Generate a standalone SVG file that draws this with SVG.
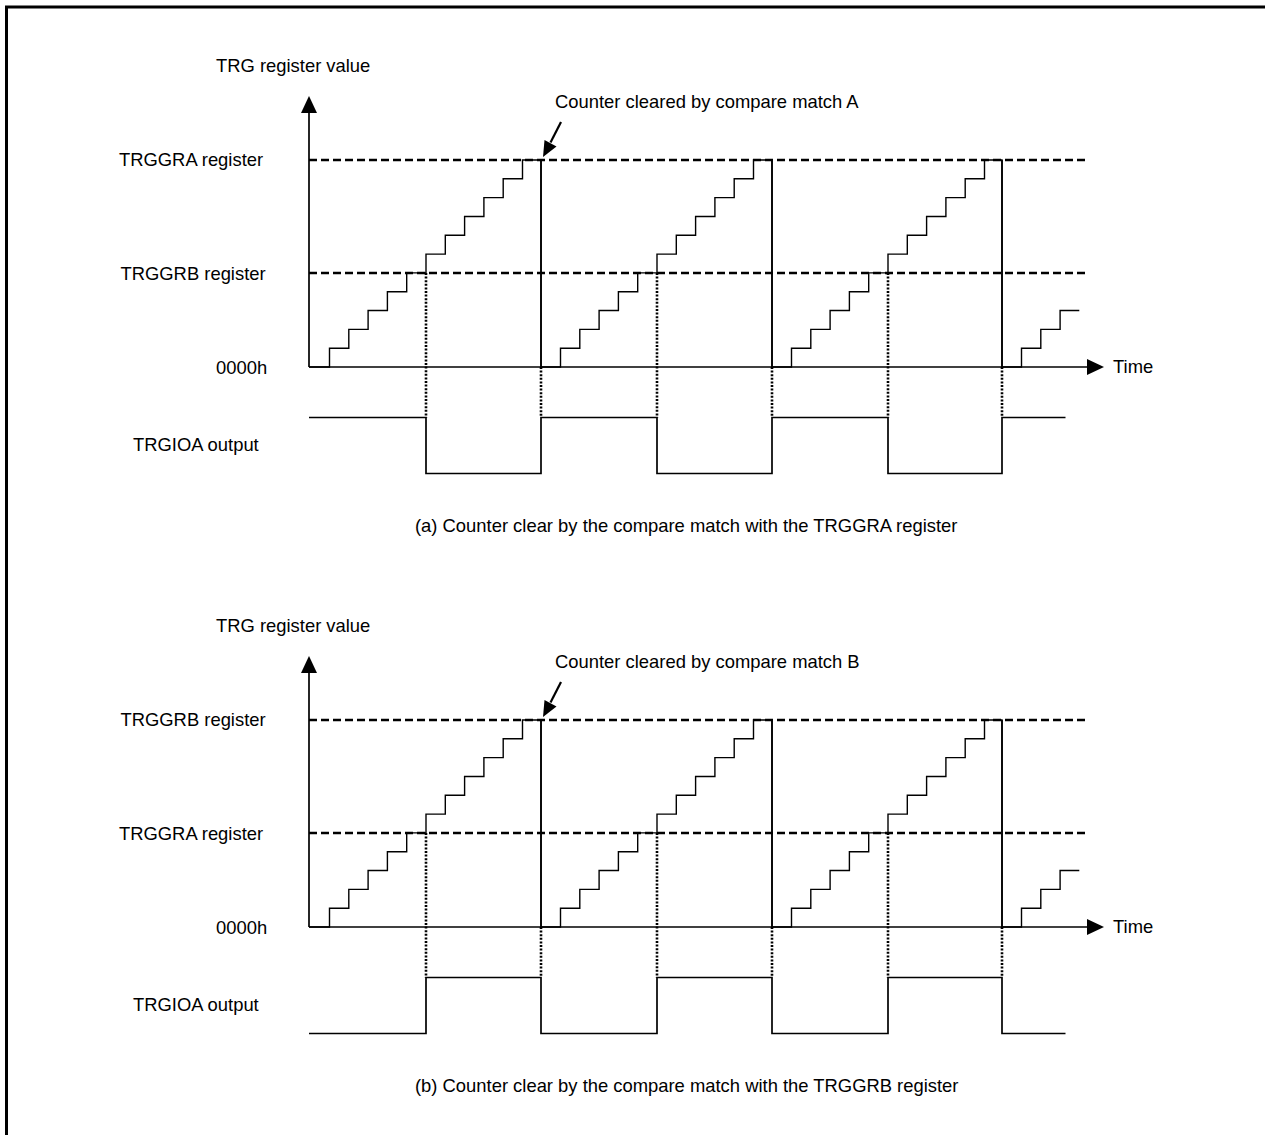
<svg xmlns="http://www.w3.org/2000/svg" width="1265" height="1135" viewBox="0 0 1265 1135">
<style>
text{font-family:"Liberation Sans",Arial,sans-serif;font-size:18.4px;fill:#000}
.ax{stroke:#000;stroke-width:1.7;fill:none}
.st{stroke:#000;stroke-width:1.4;fill:none}
.da{stroke:#000;stroke-width:2.6;stroke-dasharray:8 4;fill:none}
.dt{stroke:#000;stroke-width:2.6;stroke-dasharray:2 1.6;fill:none}
.out{stroke:#000;stroke-width:1.7;fill:none}
.hd{fill:#000;stroke:none}
</style>
<defs>
<g id="chart">
<line class="da" x1="309" y1="160" x2="1085" y2="160"/>
<line class="da" x1="309" y1="273" x2="1085" y2="273"/>
<path class="st" d="M309 367 H329.5 V348.2 H348.8 V329.4 H368.1 V310.5 H387.4 V291.7 H406.7 V272.9 H426 V254.1 H445.3 V235.3 H464.6 V216.5 H483.9 V197.6 H503.2 V178.8 H522.5 V160 H541 V367 H560.5 V348.2 H579.8 V329.4 H599.1 V310.5 H618.4 V291.7 H637.7 V272.9 H657 V254.1 H676.3 V235.3 H695.6 V216.5 H714.9 V197.6 H734.2 V178.8 H753.5 V160 H772 V367 H791.5 V348.2 H810.8 V329.4 H830.1 V310.5 H849.4 V291.7 H868.7 V272.9 H888 V254.1 H907.3 V235.3 H926.6 V216.5 H945.9 V197.6 H965.2 V178.8 H984.5 V160 H1002 V367 H1021.5 V348.2 H1040.8 V329.4 H1060.1 V310.5 H1079.3"/>
<line class="ax" x1="541" y1="160" x2="541" y2="367"/>
<line class="ax" x1="772" y1="160" x2="772" y2="367"/>
<line class="ax" x1="1002" y1="160" x2="1002" y2="367"/>
<line class="ax" x1="309" y1="112" x2="309" y2="367"/>
<polygon class="hd" points="309,96 301,113 317,113"/>
<line class="ax" x1="309" y1="367" x2="1089" y2="367"/>
<polygon class="hd" points="1104,367 1087,359 1087,375"/>
<path class="dt" d="M426 273 V417.5 M657 273 V417.5 M888 273 V417.5 M541 367 V417.5 M772 367 V417.5 M1002 367 V417.5"/>
<line stroke="#000" stroke-width="2.2" x1="561" y1="122" x2="550.5" y2="142.5"/>
<polygon class="hd" points="543,157 556.5,146.5 544.5,140"/>
<text x="216" y="72">TRG register value</text>
<text x="216" y="374">0000h</text>
<text x="1113" y="373">Time</text>
<text x="133" y="451">TRGIOA output</text>
</g>
</defs>
<g id="border">
<line x1="6.5" y1="7" x2="6.5" y2="1135" stroke="#000" stroke-width="3"/>
<line x1="5" y1="7" x2="1265" y2="7" stroke="#000" stroke-width="3"/>
</g>
<g id="panel-a">
<use href="#chart"/>
<text x="555" y="108">Counter cleared by compare match A</text>
<text x="119" y="166">TRGGRA register</text>
<text x="120.5" y="280">TRGGRB register</text>
<path class="out" d="M309 417.5 H426 V473.5 H541 V417.5 H657 V473.5 H772 V417.5 H888 V473.5 H1002 V417.5 H1065.5"/>
<text x="415" y="532">(a) Counter clear by the compare match with the TRGGRA register</text>
</g>
<g id="panel-b">
<use href="#chart" transform="translate(0,560)"/>
<text x="555" y="668">Counter cleared by compare match B</text>
<text x="120.5" y="726">TRGGRB register</text>
<text x="119" y="840">TRGGRA register</text>
<path class="out" d="M309 1033.5 H426 V977.5 H541 V1033.5 H657 V977.5 H772 V1033.5 H888 V977.5 H1002 V1033.5 H1065.5"/>
<text x="415" y="1092">(b) Counter clear by the compare match with the TRGGRB register</text>
</g>
</svg>
